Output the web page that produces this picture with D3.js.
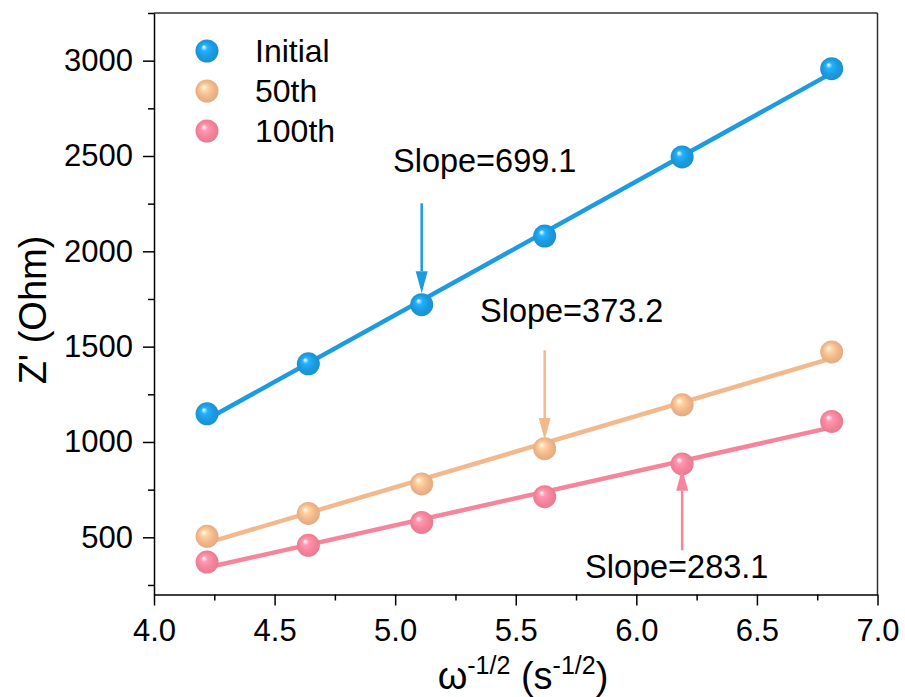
<!DOCTYPE html>
<html lang="en">
<head>
<meta charset="utf-8">
<title>Z' vs w^-1/2</title>
<script src="https://cdn.jsdelivr.net/npm/d3@7"></script>
<style>
  body { margin: 0; background: #fff; }
  text { font-family: "Liberation Sans", Arial, sans-serif; fill: #000; }
  .axis path, .axis line { stroke: #000; stroke-width: 1.5; fill: none; }
  .axis text { font-size: 31px; }
  .label { font-size: 38px; }
  .note { font-size: 32.5px; }
  .legend text { font-size: 32px; }
</style>
</head>
<body>
<script>
// data
var xVals = [4.22, 4.64, 5.11, 5.62, 6.19, 6.81];
var initial = [1148, 1410, 1720, 2080, 2495, 2958];
var cyc50 = [505, 625, 780, 965, 1195, 1472];
var cyc100 = [370, 458, 578, 713, 885, 1108];
var seriesNames = ["Initial", "50th", "100th"];
var seriesColors = ["#1c9be0", "#f3b88c", "#f6849a"];
var slopeLabels = ["Slope=699.1", "Slope=373.2", "Slope=283.1"];
var xTicks = [4.0, 4.5, 5.0, 5.5, 6.0, 6.5, 7.0];
var yTicks = [500, 1000, 1500, 2000, 2500, 3000];

var w = 905, h = 697;
var margin = {top: 13, right: 27.5, bottom: 102.5, left: 154};
var width = w - margin.left - margin.right,
    height = h - margin.top - margin.bottom;

var svg = d3.select("body").append("svg")
  .attr("width", w).attr("height", h);

// sphere gradients
var defs = svg.append("defs");
seriesColors.forEach(function(c, i) {
  var g = defs.append("radialGradient")
    .attr("id", "ball" + i)
    .attr("cx", "50%").attr("cy", "50%").attr("r", "55%")
    .attr("fx", "35%").attr("fy", "32%");
  g.append("stop").attr("offset", "0%").attr("stop-color", "#fff");
  g.append("stop").attr("offset", "25%").attr("stop-color", d3.color(c).brighter(0.4));
  g.append("stop").attr("offset", "60%").attr("stop-color", c);
  g.append("stop").attr("offset", "100%").attr("stop-color", d3.color(c).darker(0.25));
});

var g = svg.append("g")
  .attr("transform", "translate(" + margin.left + "," + margin.top + ")");

var x = d3.scaleLinear().domain([4.0, 7.0]).range([0, width]);
var y = d3.scaleLinear().domain([200, 3250]).range([height, 0]);

// frame top/right
g.append("line").attr("x1", 0).attr("x2", width).attr("y1", 0).attr("y2", 0)
  .attr("stroke", "#333").attr("stroke-width", 1.5);
g.append("line").attr("x1", width).attr("x2", width).attr("y1", 0).attr("y2", height)
  .attr("stroke", "#333").attr("stroke-width", 1.5);

// minor ticks
g.append("g").attr("class", "axis")
  .attr("transform", "translate(0," + height + ")")
  .call(d3.axisBottom(x).tickValues([4.25, 4.75, 5.25, 5.75, 6.25, 6.75]).tickSize(6).tickFormat(""))
  .select(".domain").remove();
g.append("g").attr("class", "axis")
  .call(d3.axisLeft(y).tickValues([250, 750, 1250, 1750, 2250, 2750, 3250]).tickSize(6).tickFormat(""))
  .select(".domain").remove();

// main axes
g.append("g").attr("class", "axis")
  .attr("transform", "translate(0," + height + ")")
  .call(d3.axisBottom(x).tickValues(xTicks).tickSize(11).tickSizeOuter(0).tickPadding(13)
    .tickFormat(d3.format(".1f")));
g.append("g").attr("class", "axis")
  .call(d3.axisLeft(y).tickValues(yTicks).tickSize(11).tickSizeOuter(0).tickPadding(10)
    .tickFormat(d3.format("d")));

// axis labels
svg.append("text").attr("class", "label")
  .attr("transform", "translate(46,310) rotate(-90)")
  .attr("text-anchor", "middle")
  .text("Z' (Ohm)");

var xl = svg.append("text").attr("class", "label")
  .attr("x", 523).attr("y", 689)
  .attr("text-anchor", "middle");
xl.append("tspan").text("\u03c9");
xl.append("tspan").attr("dy", -15).attr("font-size", "25px").text("-1/2");
xl.append("tspan").attr("dy", 15).text(" (s");
xl.append("tspan").attr("dy", -15).attr("font-size", "25px").text("-1/2");
xl.append("tspan").attr("dy", 15).text(")");

// regression fit
function fit(xs, ys) {
  var mx = d3.mean(xs), my = d3.mean(ys);
  var num = 0, den = 0;
  for (var i = 0; i < xs.length; i++) {
    num += (xs[i] - mx) * (ys[i] - my);
    den += (xs[i] - mx) * (xs[i] - mx);
  }
  var b1 = num / den, b0 = my - b1 * mx;
  return [xs[0], xs[xs.length - 1]].map(function(v) { return {x: v, y: b0 + b1 * v}; });
}

var allSeries = [initial, cyc50, cyc100];
var line = d3.line().x(function(d) { return x(d.x); }).y(function(d) { return y(d.y); });

allSeries.forEach(function(s, i) {
  g.append("path")
    .datum(fit(xVals, s))
    .attr("d", line)
    .attr("fill", "none")
    .attr("stroke", seriesColors[i])
    .attr("stroke-width", 4.5);
});

allSeries.forEach(function(s, i) {
  g.append("g").selectAll("circle")
    .data(s)
    .enter().append("circle")
    .attr("cx", function(d, j) { return x(xVals[j]); })
    .attr("cy", function(d) { return y(d); })
    .attr("r", 11.5)
    .attr("fill", "url(#ball" + i + ")");
});

// slope annotations: arrow in data coords, label position in pixels
var arrows = [
  {x: 5.11, from: 2252, to: 1780, lx: 393, ly: 172},
  {x: 5.62, from: 1481, to: 1010, lx: 480, ly: 322},
  {x: 6.19, from: 432, to: 860, lx: 585, ly: 578}
];
arrows.forEach(function(a, i) {
  var px = x(a.x), y0 = y(a.from), y1 = y(a.to);
  var dir = y1 > y0 ? 1 : -1;
  var headLen = 22, headW = 6;
  g.append("line")
    .attr("x1", px).attr("x2", px)
    .attr("y1", y0).attr("y2", y1 - dir * headLen)
    .attr("stroke", seriesColors[i]).attr("stroke-width", 2.5);
  g.append("path")
    .attr("d", "M" + (px - headW) + "," + (y1 - dir * headLen) + "L" + (px + headW) + "," + (y1 - dir * headLen) + "L" + px + "," + y1 + "Z")
    .attr("fill", seriesColors[i]);
  svg.append("text").attr("class", "note")
    .attr("x", a.lx).attr("y", a.ly)
    .text(slopeLabels[i]);
});

// legend
var legend = svg.append("g").attr("class", "legend");
seriesNames.forEach(function(n, i) {
  legend.append("circle")
    .attr("cx", 207).attr("cy", 51 + i * 40).attr("r", 11.5)
    .attr("fill", "url(#ball" + i + ")");
  legend.append("text")
    .attr("x", 255).attr("y", 51 + i * 40 + 11)
    .text(n);
});
</script>
</body>
</html>
